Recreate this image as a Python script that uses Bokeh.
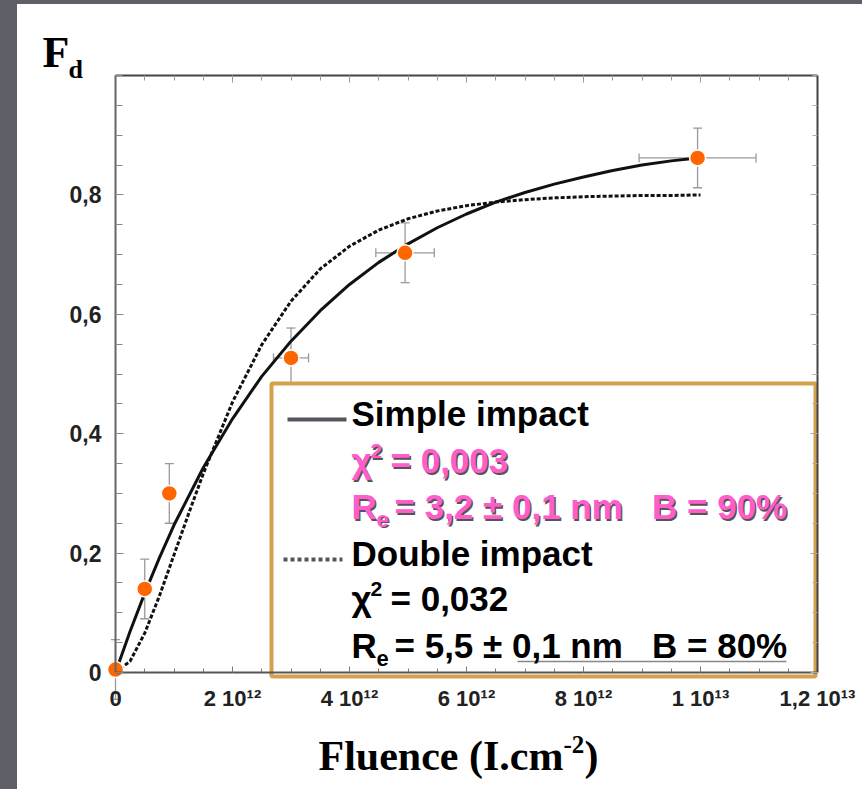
from bokeh.plotting import figure
from bokeh.models import (ColumnDataSource, Whisker, TeeHead, BoxAnnotation, Label,
                          LinearAxis, FixedTicker, CustomJSTickFormatter, Range1d, Div)
from bokeh.layouts import row, column
from bokeh.embed import file_html
from bokeh.resources import INLINE
import numpy as np

# ---------------- data ----------------
fluence = [0.0, 0.5e12, 0.92e12, 3.0e12, 4.95e12, 9.95e12]
fd = [0.005, 0.14, 0.30, 0.527, 0.703, 0.862]
fd_err = [0.05, 0.05, 0.05, 0.05, 0.05, 0.05]
fluence_err = [0.0, 0.0, 0.0, 0.3e12, 0.5e12, 1.0e12]

simple_x = [0.0, 0.25e12, 0.5e12, 0.75e12, 1.0e12, 1.5e12, 2.0e12, 2.5e12, 3.0e12, 3.5e12,
            4.0e12, 4.5e12, 5.0e12, 5.5e12, 6.0e12, 6.5e12, 7.0e12, 7.5e12, 8.0e12, 8.5e12,
            9.0e12, 9.5e12, 9.95e12]
simple_y = [0.000, 0.069, 0.133, 0.192, 0.247, 0.343, 0.425, 0.496, 0.555, 0.606,
            0.650, 0.687, 0.718, 0.745, 0.768, 0.788, 0.804, 0.818, 0.830, 0.841,
            0.850, 0.857, 0.862]

double_x = [0.0, 0.25e12, 0.5e12, 0.75e12, 1.0e12, 1.25e12, 1.5e12, 2.0e12, 2.5e12, 3.0e12,
            3.5e12, 4.0e12, 4.5e12, 5.0e12, 5.5e12, 6.0e12, 6.5e12, 7.0e12, 7.5e12, 8.0e12,
            8.5e12, 9.0e12, 9.5e12, 1.0e13]
double_y = [0.000, 0.019, 0.066, 0.128, 0.197, 0.266, 0.333, 0.453, 0.549, 0.622,
            0.676, 0.714, 0.741, 0.760, 0.773, 0.782, 0.788, 0.792, 0.795, 0.797,
            0.798, 0.799, 0.799, 0.800]

x_ticks = [0.0, 2e12, 4e12, 6e12, 8e12, 1e13, 1.2e13]
x_tick_labels = ["0", "2 10\u00b9\u00b2", "4 10\u00b9\u00b2", "6 10\u00b9\u00b2",
                 "8 10\u00b9\u00b2", "1 10\u00b9\u00b3", "1,2 10\u00b9\u00b3"]
y_ticks = [0.0, 0.2, 0.4, 0.6, 0.8]
y_tick_labels = ["0", "0,2", "0,4", "0,6", "0,8"]

legend_simple = "Simple impact"
legend_double = "Double impact"
chi_simple = "= 0,003"
chi_double = "= 0,032"
re_simple = "= 3,2 \u00b1 0,1 nm\u00a0\u00a0\u00a0B = 90%"
re_double = "= 5,5 \u00b1 0,1 nm\u00a0\u00a0\u00a0B = 80%"

PINK = "#ff5ccc"
GOLD = "#d4a24e"
ORANGE = "#ff6600"

# ---------------- pixel <-> data helpers (layout only) ----------------
PX_X0, PX_Y0 = 115.0, 672.0          # canvas position of (0, 0)
PX_PER_X = 58.5 / 1e12
PX_PER_Y = 597.0
X_END, Y_END = 1.2e13, 1.0


def X(px):
    return (px - PX_X0) / PX_PER_X


def Y(py):
    return (PX_Y0 - py) / PX_PER_Y


# the frame fills the whole figure (canvas x 17..862, y 4..789)
p = figure(width=845, height=785,
           x_range=Range1d(X(17), X(862)), y_range=Range1d(Y(789), Y(4)),
           output_backend="svg", toolbar_location=None,
           min_border_left=0, min_border_right=0, min_border_top=0, min_border_bottom=0,
           background_fill_color="white", border_fill_color="white", outline_line_color=None)
p.title.visible = False
p.grid.visible = False

JS = """
for (let i = 0; i < vals.length; i++) {
  if (Math.abs(vals[i] - tick) <= 1e-6 * Math.max(1, Math.abs(vals[i]))) { return labs[i]; }
}
return "";
"""
xticker = FixedTicker(ticks=x_ticks, minor_ticks=[float(v) for v in np.arange(0, 12.01e12, 0.5e12)])
yticker = FixedTicker(ticks=y_ticks, minor_ticks=[float(v) for v in np.arange(0, 1.001, 0.05)])

xa = p.xaxis[0]
xa.ticker = xticker
xa.formatter = CustomJSTickFormatter(args=dict(vals=x_ticks, labs=x_tick_labels), code=JS)
xa.fixed_location = 0
xa.bounds = (0, X_END)
xa.axis_line_color = "#555555"
xa.axis_line_width = 2
xa.major_tick_in, xa.major_tick_out = 6, 0
xa.minor_tick_in, xa.minor_tick_out = 4, 0
xa.major_tick_line_color = "#777777"
xa.minor_tick_line_color = "#777777"
xa.major_label_text_font = "Liberation Sans"
xa.major_label_text_font_style = "bold"
xa.major_label_text_font_size = "22px"
xa.major_label_text_color = "#222222"
xa.major_label_standoff = 13

ya = p.yaxis[0]
ya.ticker = yticker
ya.formatter = CustomJSTickFormatter(args=dict(vals=y_ticks, labs=y_tick_labels), code=JS)
ya.fixed_location = 0
ya.bounds = (0, Y_END)
ya.axis_line_color = "#666666"
ya.axis_line_width = 2
ya.major_tick_in, ya.major_tick_out = 8, 0
ya.minor_tick_in, ya.minor_tick_out = 7, 0
ya.major_tick_line_color = "#888888"
ya.minor_tick_line_color = "#888888"
ya.major_label_text_font = "Liberation Sans"
ya.major_label_text_font_style = "bold"
ya.major_label_text_font_size = "23px"
ya.major_label_text_color = "#222222"
ya.major_label_standoff = 14

blank = CustomJSTickFormatter(code="return '';")
top = LinearAxis(ticker=xticker, formatter=blank, bounds=(0, X_END), fixed_location=Y_END,
                 major_label_text_font_size="0px", major_tick_in=7, major_tick_out=0,
                 minor_tick_in=5, minor_tick_out=0, axis_line_color="#444444", axis_line_width=2,
                 major_tick_line_color="#999999", minor_tick_line_color="#999999")
p.add_layout(top, "above")
right = LinearAxis(ticker=yticker, formatter=blank, bounds=(0, Y_END), fixed_location=X_END,
                   major_label_text_font_size="0px", major_tick_in=7, major_tick_out=0,
                   minor_tick_in=5, minor_tick_out=0, axis_line_color="#444444", axis_line_width=2,
                   major_tick_line_color="#aaaaaa", minor_tick_line_color="#aaaaaa")
p.add_layout(right, "right")

# error bars
src = ColumnDataSource(dict(x=fluence, y=fd,
                            lo=[v - e for v, e in zip(fd, fd_err)],
                            hi=[v + e for v, e in zip(fd, fd_err)]))
ex = [(f, v, e) for f, v, e in zip(fluence, fd, fluence_err) if e > 0]
srcx = ColumnDataSource(dict(x=[a for a, _, _ in ex], y=[b for _, b, _ in ex],
                             lo=[a - c for a, _, c in ex], hi=[a + c for a, _, c in ex]))
EB = "#9a9a9a"
p.add_layout(Whisker(source=src, base="x", lower="lo", upper="hi", dimension="height",
                     line_color=EB, line_width=1.3, level="underlay",
                     upper_head=TeeHead(size=9, line_color=EB, line_width=1.3),
                     lower_head=TeeHead(size=9, line_color=EB, line_width=1.3)))
p.add_layout(Whisker(source=srcx, base="y", lower="lo", upper="hi", dimension="width",
                     line_color=EB, line_width=1.3, level="underlay",
                     upper_head=TeeHead(size=9, line_color=EB, line_width=1.3),
                     lower_head=TeeHead(size=9, line_color=EB, line_width=1.3)))

# legend box
p.add_layout(BoxAnnotation(left=X(271), right=X(815), top=Y(383), bottom=Y(676),
                           fill_color="white", fill_alpha=1.0, line_color=GOLD,
                           line_width=4, line_alpha=1.0, level="underlay"))

# curves
p.line(simple_x, simple_y, line_color="#111111", line_width=3)
p.line(double_x, double_y, line_color="#111111", line_width=3, line_dash="4 2")

# points
p.scatter(fluence, fd, size=16, fill_color=ORANGE, line_color="white", line_width=1.5)

# legend swatches
p.line([X(287), X(346)], [Y(419), Y(419)], line_color="#55555e", line_width=4)
p.line([X(283), X(342)], [Y(559), Y(559)], line_color="#55555e", line_width=4, line_dash="4 3")
p.line([X(517), X(786)], [Y(661), Y(661)], line_color="#888888", line_width=1.5)

BASE_SHIFT = 0.34   # empirical: the label anchor sits this many em above the drawn baseline


def put(text, px, py, size, color="#000000", font="Liberation Sans", style="bold"):
    p.add_layout(Label(x=X(px), y=Y(py - BASE_SHIFT * size), text=text, text_font=font,
                       text_font_size=f"{size}px", text_font_style=style,
                       text_color=color, text_align="left", text_baseline="alphabetic"))


def put_pink(text, px, py, size):
    put(text, px + 1.5, py + 1.5, size, "#555555")
    put(text, px, py, size, PINK)


# legend text
put(legend_simple, 351, 425, 35)
put_pink("\u03c7", 351, 472, 35)
put_pink("2", 370, 458, 21)
put_pink(chi_simple, 390, 472, 35)
put_pink("R", 351, 518, 35)
put_pink("e", 376, 526, 22)
put_pink(re_simple, 394, 518, 35)
put(legend_double, 351, 565, 35)
put("\u03c7", 351, 610, 35)
put("2", 370, 596, 21)
put(chi_double, 390, 610, 35)
put("R", 351, 657, 35)
put("e", 376, 665, 22)
put(re_double, 394, 657, 35)

# axis titles
put("F", 42, 67, 44, font="Liberation Serif")
put("d", 68, 78, 26, font="Liberation Serif")
put("Fluence (I.cm", 318, 770, 42, font="Liberation Serif")
put("-2", 563, 752, 25, font="Liberation Serif")
put(")", 584, 770, 42, font="Liberation Serif")

GREY = "#5f5f68"
left_band = Div(text="", width=17, height=789, margin=0, styles={"background-color": GREY})
top_band = Div(text="", width=845, height=4, margin=0, styles={"background-color": GREY})
layout = row(left_band, column(top_band, p, spacing=0), spacing=0)

open("out.html", "w").write(file_html(layout, INLINE))
